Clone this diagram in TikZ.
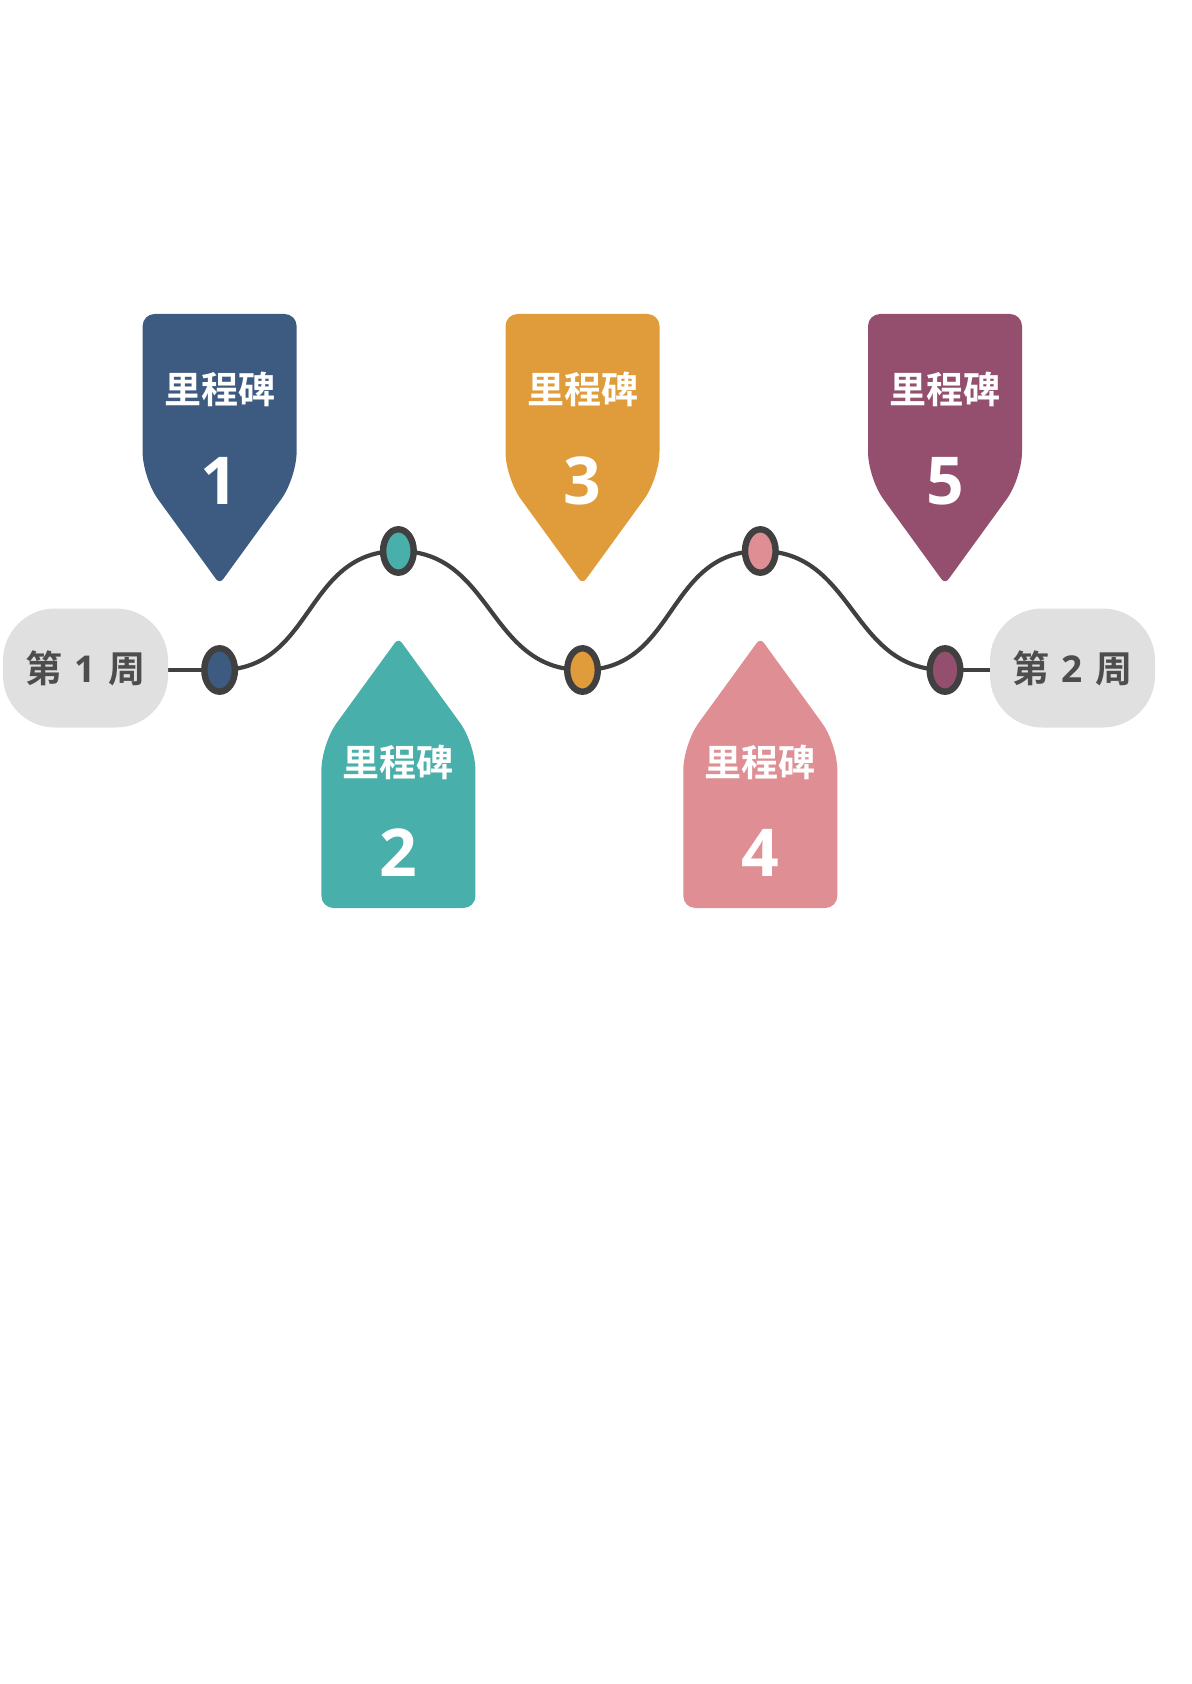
\documentclass[tikz,border=0pt]{standalone}
\usepackage{fontspec}
\setmainfont{Noto Sans CJK SC}[BoldFont={Noto Sans CJK SC Bold}]
\newfontfamily\numfont{Open Sans}
\usetikzlibrary{shapes.geometric,calc,backgrounds}
\definecolor{cblue}{HTML}{3D5A80}
\definecolor{cteal}{HTML}{48AFAA}
\definecolor{corange}{HTML}{E09C3A}
\definecolor{cpink}{HTML}{DF8F93}
\definecolor{cpurple}{HTML}{954F6E}
\definecolor{boxgray}{HTML}{E0E0E0}
\definecolor{dotline}{HTML}{404040}
\definecolor{weektext}{HTML}{4D4D4D}
\newcommand\mstoneup[2]{%
  \fill[#2] (#1,314) [rounded corners=6pt] -- (#1+77,314) [rounded corners=13pt] -- (#1+77,478) [rounded corners=3pt] -- (#1,584) [rounded corners=13pt] -- (#1-77,478) [rounded corners=6pt] -- (#1-77,314) -- cycle;}
\newcommand\mstonedown[2]{%
  \fill[#2] (#1,908) [rounded corners=6pt] -- (#1-77,908) [rounded corners=13pt] -- (#1-77,744) [rounded corners=3pt] -- (#1,638) [rounded corners=13pt] -- (#1+77,744) [rounded corners=6pt] -- (#1+77,908) -- cycle;}
\begin{document}
\begin{tikzpicture}[x=0.5pt,y=-0.5pt,
  dot/.style={ellipse,draw=dotline,line width=3.2pt,minimum width=15.3pt,minimum height=21.7pt,inner sep=0pt},
  wave/.style={draw=dotline,line width=2.1pt},
  mlabel/.style={text=white,font=\bfseries\fontsize{18.5}{20}\selectfont,inner sep=0pt},
  mnum/.style={text=white,font=\numfont\bfseries\fontsize{33}{36}\selectfont,inner sep=0pt},
  week/.style={fill=boxgray,rounded corners=26pt,minimum width=82.5pt,minimum height=59.5pt,inner sep=0pt,text=weektext,font=\bfseries\fontsize{18.5}{20}\selectfont}]
\useasboundingbox (0,0) rectangle (1191,1684);

% milestone shapes
\mstoneup{219.6}{cblue}
\mstonedown{398.4}{cteal}
\mstoneup{582.5}{corange}
\mstonedown{760.3}{cpink}
\mstoneup{945}{cpurple}

% milestone texts
\node[mlabel] (t1) at (219.6,389) {里程碑};
\node[mnum]   (n1) at (219.6,481) {1};
\node[mlabel] (t2) at (398.4,762) {里程碑};
\node[mnum]   (n2) at (398.4,853) {2};
\node[mlabel] (t3) at (582.5,389) {里程碑};
\node[mnum]   (n3) at (582.5,481) {3};
\node[mlabel] (t4) at (760.3,762) {里程碑};
\node[mnum]   (n4) at (760.3,853) {4};
\node[mlabel] (t5) at (945,389) {里程碑};
\node[mnum]   (n5) at (945,481) {5};

% week boxes
\node[week] (w1) at (85.5,668) {第\hspace{6pt}{\numfont\bfseries 1}\hspace{6pt}周};
\node[week] (w2) at (1072.5,668) {第\hspace{6pt}{\numfont\bfseries 2}\hspace{6pt}周};

% dots
\node[dot,fill=cblue]   (d1) at (219.6,670) {};
\node[dot,fill=cteal]   (d2) at (398.4,551) {};
\node[dot,fill=corange] (d3) at (582.5,670) {};
\node[dot,fill=cpink]   (d4) at (760.3,551) {};
\node[dot,fill=cpurple] (d5) at (945,670) {};

\begin{scope}[on background layer]
\draw[wave] (d1.center) .. controls +(95,0) and +(-95,0) .. (d2.center)
            .. controls +(95,0) and +(-95,0) .. (d3.center)
            .. controls +(95,0) and +(-95,0) .. (d4.center)
            .. controls +(95,0) and +(-95,0) .. (d5.center);
\draw[wave] (d1.center) -- (d1.center -| w1.east);
\draw[wave] (d5.center) -- (d5.center -| w2.west);
\end{scope}
\end{tikzpicture}
\end{document}
